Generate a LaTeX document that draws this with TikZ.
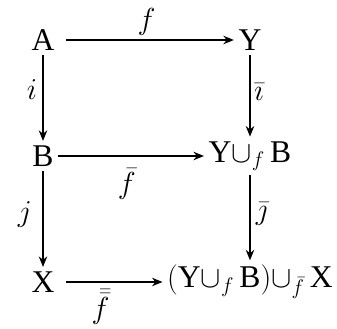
\documentclass[tikz,border=0pt]{standalone}
\usepackage{amsmath}
\usepackage{fontspec}
\setmainfont{Liberation Serif}
\usetikzlibrary{positioning,arrows.meta}
\tikzset{
  obj/.style={font=\fontsize{18}{21}\selectfont, inner sep=0.25em},
  map/.style={-{Stealth[length=2.1mm, width=1.7mm]}, line width=0.7pt},
  lbl/.style={font=\fontsize{17}{20}\selectfont, inner sep=0.2em}
}
\begin{document}
\begin{tikzpicture}[on grid, node distance=2.32cm and 4.14cm]
\useasboundingbox (0,0) rectangle (6.74,-6.58);
\node[obj] (a) at (0.86,-0.80) {A};
\node[obj, right=of a] (y) {Y};
\node[obj, below=of a] (b) {B};
\node[obj, right=of b] (yb) {$\textrm{Y}{\cup}_f\,\textrm{B}$};
\node[obj, below=2.52cm of b] (x) {X};
\node[obj, below=2.52cm of yb] (ybx) {$(\textrm{Y}{\cup}_f\,\textrm{B}){\cup}_{\bar f}\,\textrm{X}$};
\draw[map, shorten <=4pt] (a) -- node[lbl, above] {$f$} (y);
\draw[map] (a) -- node[lbl, left=1pt, pos=0.4] {$i$} (b);
\draw[map] (y) -- node[lbl, right, pos=0.45] {$\bar\imath$} (yb);
\draw[map] (b) -- node[lbl, below=5pt, pos=0.47] {$\bar f$} (yb);
\draw[map] (b) -- node[lbl, left=4pt, pos=0.45] {$j$} (x);
\draw[map] (yb) -- node[lbl, right=1pt, pos=0.45] {$\bar\jmath$} (ybx);
\draw[map, shorten <=4pt] (x) -- node[lbl, below=2pt, pos=0.4] {$\bar{\bar f}$} (ybx);
\end{tikzpicture}
\end{document}
